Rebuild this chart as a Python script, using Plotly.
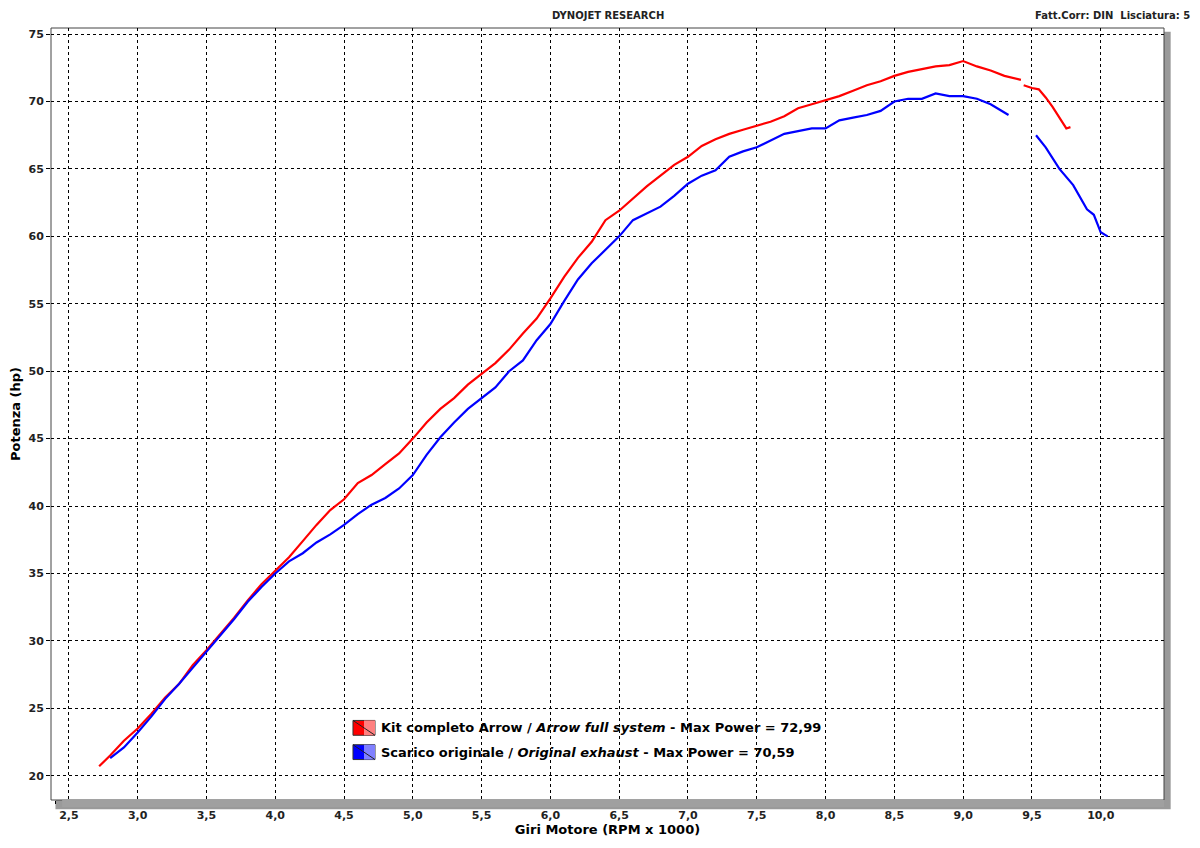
import plotly.graph_objects as go

rpm_red = [2.72,2.8,2.9,3.0,3.1,3.2,3.3,3.4,3.5,3.6,3.7,3.8,3.9,4.0,4.1,4.2,4.3,4.4,4.5,4.6,4.7,4.8,4.9,5.0,5.1,5.2,5.3,5.4,5.5,5.6,5.7,5.8,5.9,6.0,6.1,6.2,6.3,6.4,6.5,6.6,6.7,6.8,6.9,7.0,7.1,7.2,7.3,7.4,7.5,7.6,7.7,7.8,7.9,8.0,8.1,8.2,8.3,8.4,8.5,8.6,8.7,8.8,8.9,9.0,9.1,9.2,9.3,9.42,9.43,9.44,9.5,9.55,9.6,9.65,9.7,9.75,9.78]
hp_red = [20.7,21.5,22.6,23.5,24.6,25.8,26.8,28.2,29.3,30.5,31.7,33.0,34.2,35.2,36.2,37.4,38.6,39.7,40.5,41.7,42.3,43.1,43.9,45.0,46.2,47.2,48.0,49.0,49.8,50.6,51.6,52.8,53.9,55.4,57.0,58.4,59.6,61.2,61.9,62.8,63.7,64.5,65.3,65.9,66.7,67.2,67.6,67.9,68.2,68.5,68.9,69.5,69.8,70.1,70.4,70.8,71.2,71.5,71.9,72.2,72.4,72.6,72.7,73.0,72.6,72.3,71.9,71.6,None,71.2,71.0,70.9,70.3,69.6,68.8,68.0,68.1]
rpm_blue = [2.8,2.9,3.0,3.1,3.2,3.3,3.4,3.5,3.6,3.7,3.8,3.9,4.0,4.1,4.2,4.3,4.4,4.5,4.6,4.7,4.8,4.9,5.0,5.1,5.2,5.3,5.4,5.5,5.6,5.7,5.8,5.9,6.0,6.1,6.2,6.3,6.4,6.5,6.6,6.7,6.8,6.9,7.0,7.1,7.2,7.3,7.4,7.5,7.6,7.7,7.8,7.9,8.0,8.1,8.2,8.3,8.4,8.5,8.6,8.7,8.8,8.9,9.0,9.1,9.2,9.3,9.33,9.43,9.53,9.6,9.7,9.8,9.9,9.95,10.0,10.05]
hp_blue = [21.3,22.1,23.2,24.4,25.7,26.8,28.0,29.2,30.4,31.6,32.9,34.0,35.0,35.9,36.5,37.3,37.9,38.6,39.4,40.1,40.6,41.3,42.3,43.8,45.1,46.2,47.2,48.0,48.8,50.0,50.8,52.3,53.5,55.2,56.8,58.0,59.0,60.0,61.2,61.7,62.2,63.0,63.9,64.5,64.9,65.9,66.3,66.6,67.1,67.6,67.8,68.0,68.0,68.6,68.8,69.0,69.3,70.0,70.2,70.2,70.6,70.4,70.4,70.2,69.8,69.2,69.0,None,67.5,66.6,65.0,63.8,62.0,61.6,60.3,60.0]

legend_names = ["<b>Kit completo Arrow / <i>Arrow full system</i> - Max Power = 72,99</b>",
                "<b>Scarico originale / <i>Original exhaust</i> - Max Power = 70,59</b>"]
colors = ["#ff0000", "#0000ff"]
light = ["#ff8080", "#8080ff"]

fig = go.Figure()
fig.add_trace(go.Scatter(x=rpm_red, y=hp_red, mode="lines", line=dict(color=colors[0], width=2.2), connectgaps=False))
fig.add_trace(go.Scatter(x=rpm_blue, y=hp_blue, mode="lines", line=dict(color=colors[1], width=2.2), connectgaps=False))

F = "DejaVu Sans"
ax = dict(showgrid=True, gridcolor="black", griddash="dot", gridwidth=1, zeroline=False, automargin=False,
          tickfont=dict(family=F, size=11, color="#222", weight="bold"), showline=False)
fig.update_xaxes(**ax, range=[2.37, 10.46], tickvals=[2.5+0.5*i for i in range(16)],
                 ticktext=[f"{2.5+0.5*i:.1f}".replace(".", ",") for i in range(16)],
                 ticks="outside", ticklen=5, tickcolor="black",
                 minor=dict(dtick=0.1, tick0=2.5, ticks="outside", ticklen=3, tickcolor="black", showgrid=False),
                 title=dict(text="<b>Giri Motore (RPM x 1000)</b>", font=dict(family=F, size=13, color="black"), standoff=2))
fig.update_yaxes(**ax, range=[18.2, 75.45], tickvals=list(range(20, 80, 5)),
                 ticks="outside", ticklen=4, tickcolor="black",
                 title=dict(text="<b>Potenza (hp)</b>", font=dict(family=F, size=13, color="black"), standoff=6))

shapes = [
    dict(type="rect", xref="paper", yref="paper", x0=0.004, x1=1.006, y0=-0.012, y1=0.995,
         line=dict(width=0), fillcolor="#9a9a9a", layer="below"),
    dict(type="rect", xref="paper", yref="paper", x0=0, x1=1, y0=0, y1=1,
         line=dict(color="#444", width=1), fillcolor="white", layer="below"),
    dict(type="rect", xref="paper", yref="paper", x0=0.01, x1=1, y0=-0.009, y1=0,
         line=dict(width=0), fillcolor="#a0a0a0", layer="above"),
]
anns = []
for i in range(2):
    yc = 23.55 - i * 1.8
    shapes.append(dict(type="rect", x0=4.565, x1=4.725, y0=yc-0.55, y1=yc+0.55, xref="x", yref="y",
                       fillcolor=colors[i], line=dict(color="#333", width=1)))
    shapes.append(dict(type="path", path=f"M 4.645 {yc+0.55} L 4.725 {yc+0.55} L 4.725 {yc-0.55} L 4.645 {yc-0.55} Z", xref="x", yref="y",
                       fillcolor=light[i], line=dict(width=0)))
    shapes.append(dict(type="line", x0=4.565, x1=4.725, y0=yc+0.55, y1=yc-0.55, xref="x", yref="y",
                       line=dict(color="#222", width=1)))
    anns.append(dict(x=4.755, y=yc, xref="x", yref="y", text=legend_names[i], showarrow=False, xanchor="left",
                     font=dict(family=F, size=13, color="black")))
anns.append(dict(x=0.5, y=1.0, xref="paper", yref="paper", yshift=20, text="<b>DYNOJET RESEARCH</b>",
                 showarrow=False, font=dict(family=F, size=10, color="#222")))
anns.append(dict(x=1.025, y=1.0, xref="paper", yref="paper", yshift=20, xanchor="right",
                 text="<b>Fatt.Corr: DIN  Lisciatura: 5</b>", showarrow=False, font=dict(family=F, size=10, color="#222")))

fig.update_layout(width=1200, height=848, margin=dict(l=43, r=44, t=20, b=56),
                  plot_bgcolor="white", paper_bgcolor="white", showlegend=False,
                  shapes=shapes, annotations=anns)
fig.write_html("out.html")
